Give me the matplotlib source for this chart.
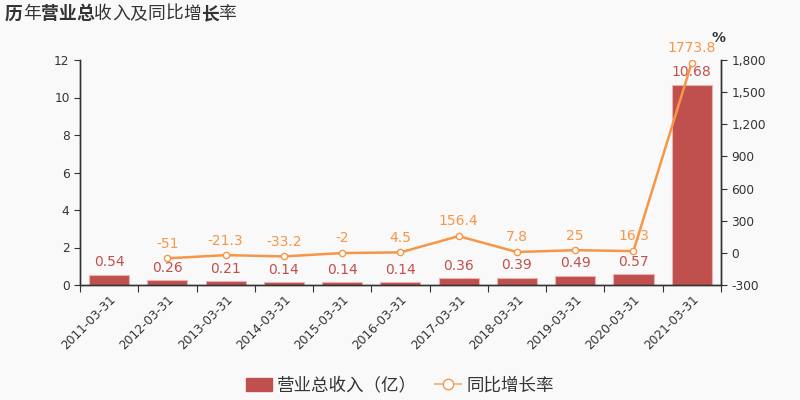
import matplotlib.pyplot as plt
from matplotlib.ticker import FuncFormatter, MultipleLocator
from matplotlib.lines import Line2D
from matplotlib.patches import Patch

plt.rcParams['font.family'] = ['DejaVu Sans', 'Noto Sans CJK SC']

fechas = ['2011-03-31', '2012-03-31', '2013-03-31', '2014-03-31', '2015-03-31',
          '2016-03-31', '2017-03-31', '2018-03-31', '2019-03-31', '2020-03-31',
          '2021-03-31']
ingresos = [0.54, 0.26, 0.21, 0.14, 0.14, 0.14, 0.36, 0.39, 0.49, 0.57, 10.68]
crecimiento = [None, -51, -21.3, -33.2, -2, 4.5, 156.4, 7.8, 25, 16.3, 1773.8]
etiquetas_crec = ['', '-51', '-21.3', '-33.2', '-2', '4.5', '156.4', '7.8', '25', '16.3', '1773.8']

rojo = '#c0504d'
naranja = '#f79646'
fondo = '#f9f9f9'
gris = '#333333'

fig = plt.figure(figsize=(8, 4), dpi=100, facecolor=fondo)
ax = fig.add_axes([0.1, 0.2875, 0.801, 0.5625], facecolor=fondo)
ax2 = ax.twinx()

x = list(range(len(fechas)))
ax.bar(x, ingresos, width=0.69, color=rojo, edgecolor='#e8b4b2', linewidth=0.8, zorder=2)
for xi, v in zip(x, ingresos):
    ax.annotate(f'{v:.2f}', (xi, v), xytext=(0, 4), textcoords='offset points',
                ha='center', va='bottom', color=rojo, fontsize=10)

xs = [xi for xi, c in zip(x, crecimiento) if c is not None]
ys = [c for c in crecimiento if c is not None]
ax2.plot(xs, ys, color=naranja, linewidth=1.8, marker='o', markersize=4.5,
         markerfacecolor='white', markeredgecolor=naranja, markeredgewidth=1, zorder=3)
for xi, c, t in zip(x, crecimiento, etiquetas_crec):
    if c is None:
        continue
    ax2.annotate(t, (xi, c), xytext=(0, 5.5), textcoords='offset points',
                 ha='center', va='bottom', color=naranja, fontsize=10)

ax.set_xlim(-0.5, len(fechas) - 0.5)
ax.set_ylim(0, 12)
ax.yaxis.set_major_locator(MultipleLocator(2))
ax2.set_ylim(-300, 1800)
ax2.yaxis.set_major_locator(MultipleLocator(300))
ax2.yaxis.set_major_formatter(FuncFormatter(lambda v, p: f'{int(v):,}'))

ax.set_xticks([i - 0.5 for i in range(len(fechas) + 1)])
ax.set_xticklabels([])
ax.set_xticks(x, minor=True)
ax.set_xticklabels(fechas, minor=True, rotation=45, ha='right', rotation_mode='anchor',
                   fontsize=8.7, color=gris)
ax.tick_params(axis='x', which='minor', length=0, pad=6)
ax.tick_params(axis='x', which='major', length=5, color=gris)
ax.tick_params(axis='y', labelsize=8.7, colors=gris, length=4)
ax2.tick_params(axis='y', labelsize=8.7, colors=gris, length=4)

for a in (ax, ax2):
    a.spines['top'].set_visible(False)
    for s in ('left', 'right', 'bottom'):
        a.spines[s].set_color(gris)
        a.spines[s].set_linewidth(1)

fig.text(719 / 800, 1 - 38 / 400, '%', fontsize=10, color=gris, fontweight='bold',
         ha='center', va='center')

# titulo con pesos mezclados
titulo = '历年营业总收入及同比增长率'
negritas = {0, 2, 3, 4, 11}
for i, ch in enumerate(titulo):
    fig.text((5 + i * 17.8) / 800, 1 - 14 / 400, ch, fontsize=12.8, color=gris,
             fontfamily='Noto Sans CJK SC',
             fontweight='bold' if i in negritas else 'normal', ha='left', va='center')

handles = [Patch(facecolor=rojo, edgecolor=rojo),
           Line2D([0], [0], color='#f9b98a', linewidth=1.5, marker='o', markersize=7.5,
                  markerfacecolor='white', markeredgecolor=naranja)]
fig.legend(handles, ['营业总收入（亿）', '同比增长率'], loc='center', bbox_to_anchor=(0.5, 0.036),
           ncol=2, frameon=False, handlelength=1.45, handleheight=0.7,
           columnspacing=1.05, handletextpad=0.3, labelcolor=gris,
           prop={'family': 'Noto Sans CJK SC', 'size': 12.6})

fig.savefig('out.png', dpi=100, facecolor=fondo)
